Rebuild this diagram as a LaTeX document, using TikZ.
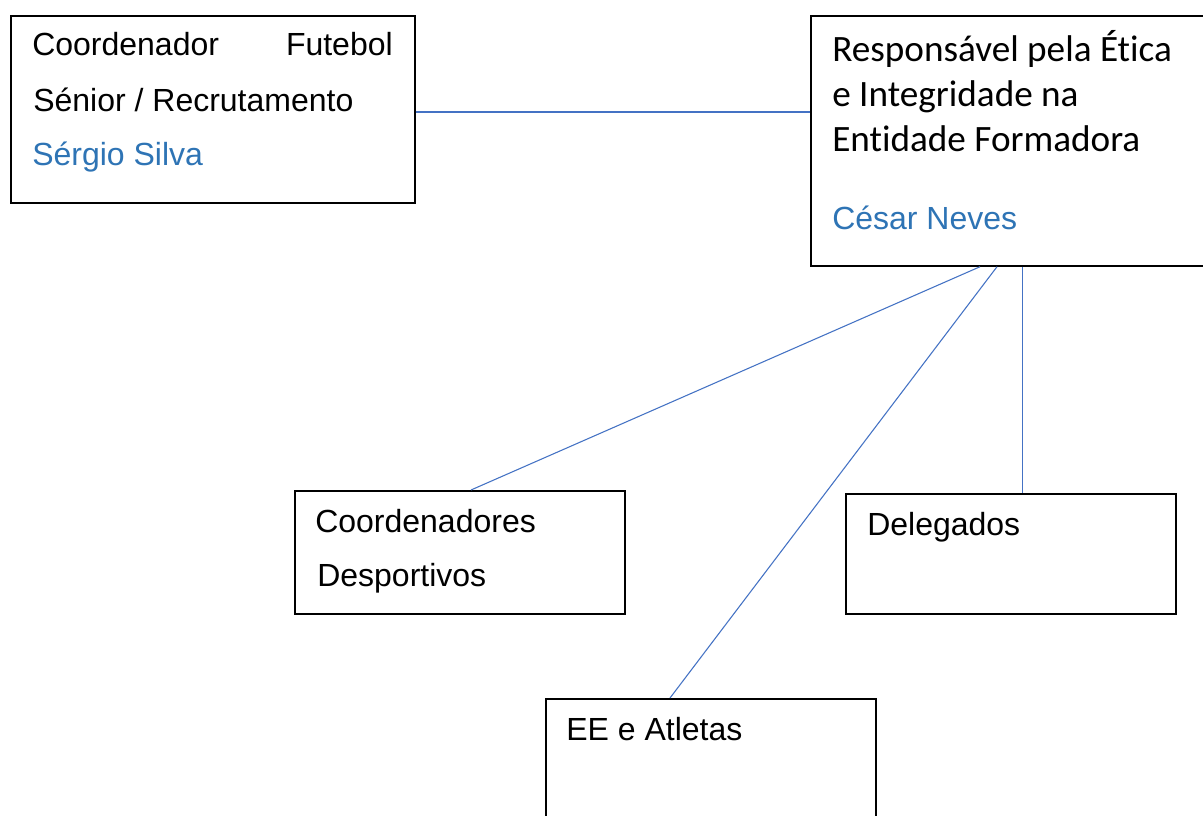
\documentclass[tikz,border=0pt]{standalone}
\usepackage{fontspec}
\setmainfont{Liberation Sans}
\newfontfamily\calibri[Ligatures={NoCommon}]{Carlito}
\usetikzlibrary{calc}
\definecolor{linkblue}{HTML}{4472C4}
\definecolor{nameblue}{HTML}{2E74B5}
\begin{document}
\begin{tikzpicture}[x=0.75pt,y=-0.75pt,
  box/.style={draw=black,line width=1.3pt,inner sep=0pt,anchor=north west,fill=none},
  txt/.style={inner sep=0pt,anchor=base west,font=\fontsize{24pt}{28pt}\selectfont},
  txtb/.style={inner sep=0pt,anchor=base west,font=\calibri\fontsize{27.9pt}{32pt}\selectfont},
  conn/.style={draw=linkblue,line width=0.8pt}]
\clip (0,0) rectangle (1203,816);
\fill[white] (0,0) rectangle (1203,816);
% boxes
\node[box,minimum width=303pt,minimum height=140.25pt] (A) at (10,15) {};
\node[box,minimum width=294.5pt,minimum height=187.5pt] (B) at (810,15) {};
\node[box,minimum width=247.5pt,minimum height=92.25pt] (C) at (294,490) {};
\node[box,minimum width=247.5pt,minimum height=90pt] (D) at (845,493) {};
\node[box,minimum width=247.5pt,minimum height=110pt] (E) at (545,698) {};
% texts
\node[txt] (a1) at (32,56) {Coordenador};
\node[txt,anchor=base east] (a2) at (393,56) {Futebol};
\node[txt] (a3) at (33,112) {Sénior / Recrutamento};
\node[txt,text=nameblue] (a4) at (32,166) {Sérgio Silva};
\node[txtb] (b1) at (832,62) {Responsável pela Ética};
\node[txtb] (b2) at (832,107) {e Integridade na};
\node[txtb] (b3) at (832,152) {Entidade Formadora};
\node[txt,text=nameblue] (b4) at (832,230) {César Neves};
\node[txt] (c1) at (315,532) {Coordenadores};
\node[txt] (c2) at (317,586) {Desportivos};
\node[txt] (d1) at (867,535) {Delegados};
\node[txt] (e1) at (566,740) {EE e Atletas};
% connectors
\draw[conn] ($(A.north east)+(0,97)$) -- ($(B.north west)+(0,97)$);
\draw[conn] ($(B.south west)+(170,0)$) -- ($(C.north west)+(177,0)$);
\draw[conn] ($(B.south west)+(187,0)$) -- ($(E.north west)+(125,0)$);
\draw[conn] ($(B.south west)+(212.5,0)$) -- ($(D.north west)+(177.5,0)$);
\end{tikzpicture}
\end{document}
